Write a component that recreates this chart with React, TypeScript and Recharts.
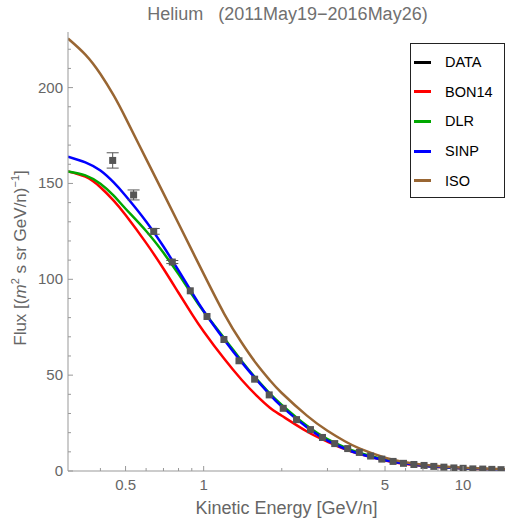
import React from 'react';
import { ComposedChart, Line, Scatter, ErrorBar, XAxis, YAxis } from 'recharts';

// model curves, sampled energies in GeV/n
const curveE = [0.3, 0.35, 0.4, 0.45, 0.5, 0.6, 0.7, 0.8, 0.9, 1, 1.2, 1.4, 1.6, 1.8, 2, 2.5, 3, 3.5, 4, 5, 6, 7, 8, 10, 12, 14.5];
const bon14 = [156.3, 153.5, 148, 141, 133.5, 119, 105.5, 93, 82, 72.8, 58.5, 47.6, 39.3, 33, 28.8, 20.6, 15.3, 11.4, 8.8, 5.5, 3.7, 2.7, 2.1, 1.35, 0.95, 0.7];
const dlr = [156.3, 154.2, 149.8, 143.6, 136.8, 125.2, 113.8, 102.7, 92.2, 83.2, 69.3, 57.4, 47.9, 40.4, 34.5, 23.6, 16.7, 12.3, 9.4, 5.9, 4.0, 2.9, 2.25, 1.45, 1.0, 0.72];
const sinp = [164, 161, 156.7, 150.5, 143.6, 130.2, 117.1, 104.6, 93.3, 83.5, 68.5, 56.8, 47.5, 39.8, 33.6, 22.8, 15.8, 11.6, 8.9, 5.6, 3.9, 2.8, 2.2, 1.4, 0.98, 0.7];
const iso = [225.6, 217.2, 207.1, 195.9, 184.2, 162.8, 144.8, 129.1, 115.2, 102.8, 82, 67, 55.8, 47.3, 40.7, 28.9, 21, 15.5, 11.7, 7.0, 4.6, 3.3, 2.6, 1.65, 1.25, 0.95];

// measured He flux
const dataE = [0.446, 0.537, 0.642, 0.757, 0.888, 1.03, 1.197, 1.368, 1.572, 1.789, 2.026, 2.28, 2.58, 2.87, 3.2, 3.59, 3.98, 4.4, 4.86, 5.37, 5.89, 6.46, 7.07, 7.71, 8.43, 9.21, 10.0, 10.9, 11.9, 12.9, 14.0];
const dataFlux = [162, 144, 125, 109, 94, 80.6, 68.6, 57.5, 47.9, 39.7, 32.7, 26.8, 21.6, 17.5, 14.3, 11.7, 9.7, 7.8, 6.2, 5.0, 4.0, 3.4, 2.9, 2.4, 2.0, 1.6, 1.4, 1.1, 1.0, 0.85, 0.7];
const dataErr = [4, 2.6, 1.5, 0.8, 0, 0, 0, 0, 0, 0, 0, 0, 0, 0, 0, 0, 0, 0, 0, 0, 0, 0, 0, 0, 0, 0, 0, 0, 0, 0, 0];

const xTicks = [0.4, 0.5, 0.6, 0.7, 0.8, 0.9, 1, 2, 3, 4, 5, 6, 7, 8, 9, 10];
const xMajor = [0.5, 1, 5, 10];
const yTicks = [0, 10, 20, 30, 40, 50, 60, 70, 80, 90, 100, 110, 120, 130, 140, 150, 160, 170, 180, 190, 200, 210, 220];

const series = [
  { name: 'BON14', color: '#ff0000', values: bon14 },
  { name: 'DLR', color: '#00a800', values: dlr },
  { name: 'SINP', color: '#0000ff', values: sinp },
  { name: 'ISO', color: '#996633', values: iso },
];
const legendItems = [{ name: 'DATA', color: '#000000' }, ...series];

const AXIS = '#999';
const TXT = '#666';
const FONT = 'Liberation Sans, Arial, sans-serif';

const toRows = (vals: number[]) => curveE.map((x, i) => ({ x, y: vals[i] }));
const points = dataE.map((x, i) => ({ x, y: dataFlux[i], err: dataErr[i] }));

const BottomTick = ({ x, y, payload }: any) => {
  const major = xMajor.includes(payload.value);
  return (
    <g>
      <line x1={x} x2={x} y1={y} y2={y - (major ? 5 : 3)} stroke={AXIS} />
      {major && (
        <text x={x} y={y + 19} textAnchor="middle" fill={TXT} fontSize={15} fontFamily={FONT}>
          {payload.value}
        </text>
      )}
    </g>
  );
};

const TopTick = ({ x, y, payload }: any) => {
  const major = xMajor.includes(payload.value);
  return <line x1={x} x2={x} y1={y} y2={y + (major ? 5 : 3)} stroke={AXIS} />;
};

const LeftTick = ({ x, y, payload }: any) => {
  const major = payload.value % 50 === 0;
  return (
    <g>
      <line x1={x} x2={x + (major ? 5 : 3)} y1={y} y2={y} stroke={AXIS} />
      {major && (
        <text x={x - 5} y={y + 5} textAnchor="end" fill={TXT} fontSize={15} fontFamily={FONT}>
          {payload.value}
        </text>
      )}
    </g>
  );
};

const RightTick = ({ x, y, payload }: any) => {
  const major = payload.value % 50 === 0;
  return <line x1={x} x2={x - (major ? 5 : 3)} y1={y} y2={y} stroke={AXIS} />;
};

const Square = (p: any) => <rect x={p.cx - 3.5} y={p.cy - 3.5} width={7} height={7} fill="#555" />;

export default function App() {
  return (
    <div style={{ position: 'absolute', left: 0, top: 0, width: 507, height: 521, background: '#fff', fontFamily: FONT }}>
      <ComposedChart width={507} height={521} margin={{ top: 32, right: 2, left: 20, bottom: 20 }}>
        <XAxis
          dataKey="x"
          type="number"
          scale="log"
          domain={[0.3, 14.5]}
          allowDataOverflow
          ticks={xTicks}
          interval={0}
          tick={BottomTick}
          tickLine={false}
          tickSize={0}
          tickMargin={0}
          height={30}
          axisLine={{ stroke: AXIS }}
        />
        <XAxis
          xAxisId="top"
          orientation="top"
          type="number"
          scale="log"
          domain={[0.3, 14.5]}
          allowDataOverflow
          ticks={xTicks}
          interval={0}
          tick={TopTick}
          tickLine={false}
          tickSize={0}
          tickMargin={0}
          height={0}
          axisLine={{ stroke: AXIS }}
        />
        <YAxis
          dataKey="y"
          type="number"
          domain={[0, 229]}
          allowDataOverflow
          ticks={yTicks}
          interval={0}
          tick={LeftTick}
          tickLine={false}
          tickSize={0}
          tickMargin={0}
          width={48}
          axisLine={{ stroke: AXIS }}
        />
        <YAxis
          yAxisId="right"
          orientation="right"
          type="number"
          domain={[0, 229]}
          allowDataOverflow
          ticks={yTicks}
          interval={0}
          tick={RightTick}
          tickLine={false}
          tickSize={0}
          tickMargin={0}
          width={0}
          axisLine={{ stroke: AXIS }}
        />
        {series.map((s) => (
          <Line
            key={s.name}
            data={toRows(s.values)}
            dataKey="y"
            type="natural"
            stroke={s.color}
            strokeWidth={2.5}
            dot={false}
            isAnimationActive={false}
          />
        ))}
        <Scatter data={points} dataKey="y" shape={Square} isAnimationActive={false}>
          <ErrorBar dataKey="err" direction="y" width={6} stroke="#555" strokeWidth={1} />
        </Scatter>
      </ComposedChart>

      <div style={{ position: 'absolute', left: 0, width: 507, top: 4, textAlign: 'center', paddingLeft: 68, boxSizing: 'border-box', color: '#707070', fontSize: 18, whiteSpace: 'pre' }}>
        {'Helium   (2011May19\u22122016May26)'}
      </div>
      <div style={{ position: 'absolute', left: 68, width: 437, top: 498, textAlign: 'center', color: TXT, fontSize: 18 }}>
        Kinetic Energy [GeV/n]
      </div>
      <div
        style={{
          position: 'absolute',
          left: 20,
          top: 258,
          transform: 'translate(-50%, -50%) rotate(-90deg)',
          color: TXT,
          fontSize: 17,
          whiteSpace: 'nowrap',
        }}
      >
        Flux [(<i>m</i><sup style={{ fontSize: 11 }}>2</sup> s sr GeV/n)<sup style={{ fontSize: 11 }}>{'\u22121'}</sup>]
      </div>

      <div
        style={{
          position: 'absolute',
          left: 410,
          top: 43,
          width: 95,
          height: 155,
          border: '1.5px solid #222',
          boxSizing: 'border-box',
          background: '#fff',
        }}
      >
        {legendItems.map((it, i) => (
          <div key={it.name} style={{ position: 'absolute', left: 3, top: 9 + i * 29.7, display: 'flex', alignItems: 'center', height: 18 }}>
            <span style={{ display: 'inline-block', width: 17, height: 3, background: it.color }} />
            <span style={{ marginLeft: 14, fontSize: 14.5, color: '#000' }}>{it.name}</span>
          </div>
        ))}
      </div>
    </div>
  );
}
